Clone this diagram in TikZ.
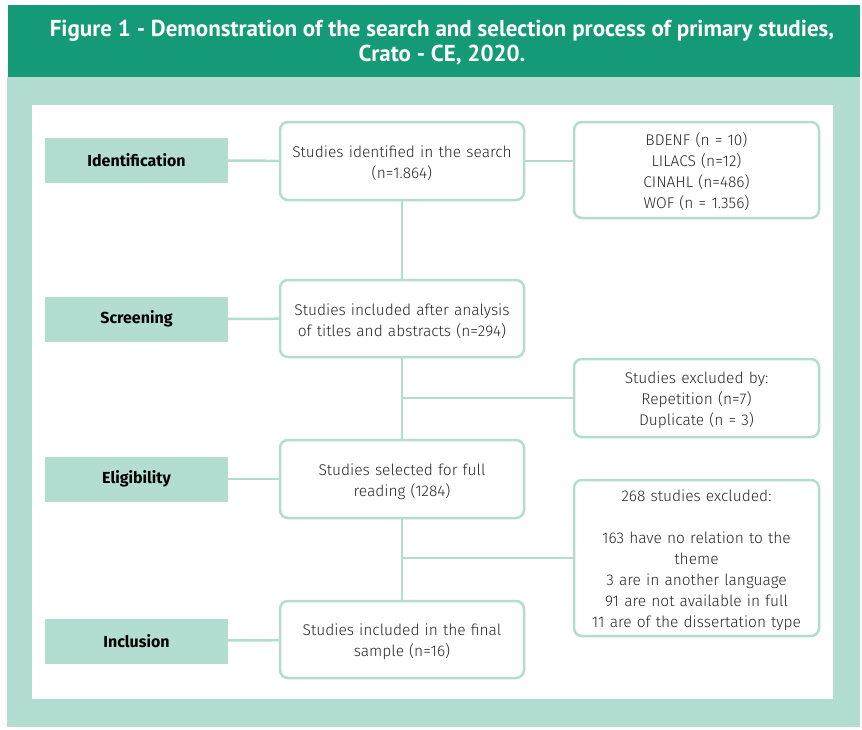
\documentclass[tikz,border=0pt]{standalone}
\usepackage{fontspec}
\setmainfont{Fira Sans}[UprightFont=* Light,BoldFont=* Bold]
\newfontfamily\titlefont{PT Sans}
\definecolor{hdgreen}{RGB}{21,154,120}
\definecolor{ltgreen}{RGB}{179,221,208}
\definecolor{txtgray}{RGB}{40,40,40}
\tikzset{
  stage/.style={fill=ltgreen,minimum width=183pt,minimum height=45pt,inner sep=0pt,
    font=\fontsize{16}{18}\selectfont\bfseries,text=black},
  studybox/.style={draw=ltgreen,line width=2.5pt,rounded corners=8pt,fill=white,
    minimum width=244pt,text width=230pt,align=center,inner sep=0pt,
    font=\fontsize{15.5}{21}\selectfont,text=txtgray,
    execute at begin node={\rule{0pt}{17pt}}},
  link/.style={ltgreen,line width=2.5pt}
}
\begin{document}
\begin{tikzpicture}[x=1pt,y=-1pt]
  \useasboundingbox (0,0) rectangle (862,729);
  % frame
  \fill[ltgreen] (7,77) rectangle (860,727);
  \fill[hdgreen] (8,5) rectangle (860,77);
  \fill[white] (32,105) rectangle (833,699);
  \node[text=white,align=center,font=\titlefont\bfseries\fontsize{23}{25}\selectfont] (title) at (442,43)
    {Figure 1 - Demonstration of the search and selection process of primary studies,\\Crato - CE, 2020.};
  % stages
  \node[stage] (ident) at (136.5,160.5) {Identification};
  \node[stage] (screen) at (136.5,319) {Screening};
  \node[stage] (elig) at (136.5,479) {Eligibility};
  \node[stage] (incl) at (136.5,641) {Inclusion};
  % main boxes
  \node[studybox,minimum height=78pt] (found) at (402,161) {Studies identified in the search\\(n=1.864)};
  \node[studybox,minimum height=77pt] (titles) at (402,318.5) {Studies included after analysis\\of titles and abstracts (n=294)};
  \node[studybox,minimum height=78pt] (full) at (402,479) {Studies selected for full\\reading (1284)};
  \node[studybox,minimum height=77pt] (final) at (402,639.5) {Studies included in the final\\sample (n=16)};
  % side boxes
  \node[studybox,minimum height=96pt,minimum width=245pt] (bases) at (696.5,170)
    {BDENF (n = 10)\\LILACS (n=12)\\CINAHL (n=486)\\WOF (n = 1.356)};
  \node[studybox,minimum height=78pt,minimum width=245pt] (rep) at (696.5,398)
    {Studies excluded by:\\Repetition (n=7)\\Duplicate (n = 3)};
  \node[studybox,minimum height=156pt,minimum width=245pt] (excl) at (696.5,558)
    {268 studies excluded:\\[21pt]163 have no relation to the\\theme\\3 are in another language\\91 are not available in full\\11 are of the dissertation type};
  % connectors
  \draw[link] (ident) -- (found);
  \draw[link] (screen) -- (titles);
  \draw[link] (elig) -- (full);
  \draw[link] (incl) -- (final);
  \draw[link] (found.east) -- (found.east -| bases.west);
  \draw[link] (found) -- (titles);
  \draw[link] (titles) -- (full);
  \draw[link] (full) -- (final);
  \draw[link] (rep.west) -- (rep.west -| titles.south);
  \draw[link] (excl.west) -- (excl.west -| full.south);
\end{tikzpicture}
\end{document}
